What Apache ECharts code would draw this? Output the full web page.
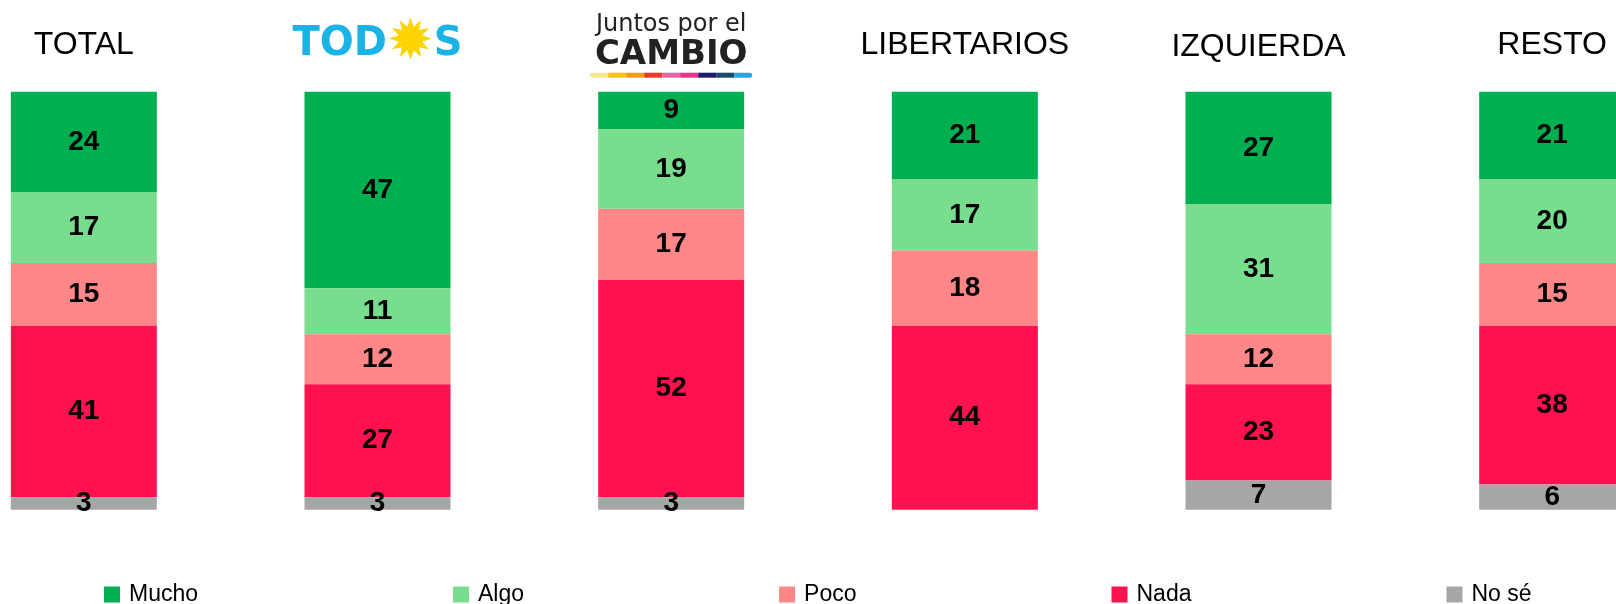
<!DOCTYPE html>
<html>
<head>
<meta charset="utf-8">
<script src="https://cdn.jsdelivr.net/npm/echarts@6/dist/echarts.min.js"></script>
<style>
  html, body { margin: 0; padding: 0; background: #fff; overflow: hidden; width: 1616px; height: 604px; position: relative; }
  /* el gráfico original está recortado: la primera y la última columna salen del borde */
  #chart { position: absolute; left: -63px; top: 0; width: 1762px; height: 604px; }
</style>
</head>
<body>
<div id="chart"></div>
<script>
// grupos (encabezados) y respuestas
const categories = ['TOTAL', 'TODOS', 'JxC', 'LIBERTARIOS', 'IZQUIERDA', 'RESTO']
const seriesNames = ['Mucho', 'Algo', 'Poco', 'Nada', 'No sé']
const mucho = [24, 47, 9, 21, 27, 21]
const algo = [17, 11, 19, 17, 31, 20]
const poco = [15, 12, 17, 18, 12, 15]
const nada = [41, 27, 52, 44, 23, 38]
const noSe = [3, 3, 3, 0, 7, 6]

const colors = ['#00B050', '#78DE8D', '#FF8787', '#FF124F', '#A6A6A6']
// franja de colores del logo de Juntos por el Cambio
const stripeColors = ['#F3E98C', '#F8C21B', '#F29B20', '#E63A2E', '#E06AA6', '#E2378A', '#1C1B6C', '#1B4A6C', '#2BA4E0']

const chart = echarts.init(document.getElementById('chart'))

const rich = {
  h: { fontSize: 32, fontFamily: 'Liberation Sans', color: '#000', lineHeight: 36 },
  hi: { fontSize: 32, fontFamily: 'Liberation Sans', color: '#000', lineHeight: 36, padding: [5, 0, 0, 0] },
  t: { fontSize: 40, fontFamily: 'DejaVu Sans', fontWeight: 'bold', color: '#1BB3E6', lineHeight: 36 },
  sun: { fontSize: 56, fontFamily: 'DejaVu Sans', color: '#FFD400', lineHeight: 36 },
  j: { fontSize: 24, fontFamily: 'DejaVu Sans', color: '#222', lineHeight: 26 },
  c: { fontSize: 34, fontFamily: 'DejaVu Sans', fontWeight: 'bold', color: '#222', lineHeight: 34 }
}
stripeColors.forEach((col, i) => {
  rich['s' + i] = {
    width: 18, height: 5, lineHeight: 6, verticalAlign: 'bottom',
    backgroundColor: col, fontSize: 1,
    borderRadius: i === 0 ? [3, 0, 0, 3] : (i === stripeColors.length - 1 ? [0, 3, 3, 0] : 0)
  }
})

const headerFormatter = (name) => {
  if (name === 'TODOS') return '{t|TOD}{sun|✹}{t|S}'
  if (name === 'JxC') {
    return '{j|Juntos por el}\n{c|CAMBIO}\n' + stripeColors.map((_, i) => '{s' + i + '| }').join('')
  }
  if (name === 'IZQUIERDA') return '{hi|' + name + '}'
  return '{h|' + name + '}'
}

const dataSets = [mucho, algo, poco, nada, noSe]

const option = {
  animation: false,
  legend: {
    data: seriesNames,
    left: 167,
    top: 583,
    padding: 0,
    icon: 'rect',
    itemWidth: 16,
    itemHeight: 16,
    itemGap: 255,
    textStyle: {
      fontSize: 23,
      fontFamily: 'Liberation Sans',
      color: '#000',
      lineHeight: 16,
      padding: [0, 0, 0, 4]
    }
  },
  grid: { left: 0, right: 0, top: 91.7, bottom: 94.3, containLabel: false },
  xAxis: {
    type: 'category',
    position: 'top',
    data: categories,
    axisLine: { show: false },
    axisTick: { show: false },
    axisLabel: {
      interval: 0,
      margin: 47,
      verticalAlign: 'middle',
      formatter: headerFormatter,
      rich: rich
    }
  },
  yAxis: {
    type: 'value',
    min: 0,
    max: 100,
    inverse: true,
    show: false,
    splitLine: { show: false }
  },
  series: seriesNames.map((name, i) => ({
    name: name,
    type: 'bar',
    stack: 'total',
    barWidth: 146,
    data: dataSets[i],
    itemStyle: { color: colors[i] },
    label: {
      show: true,
      position: 'inside',
      color: '#000',
      fontSize: 28,
      fontWeight: 'bold',
      fontFamily: 'Liberation Sans',
      formatter: p => (p.value > 0 ? p.value : '')
    }
  }))
}

chart.setOption(option)
</script>
</body>
</html>
